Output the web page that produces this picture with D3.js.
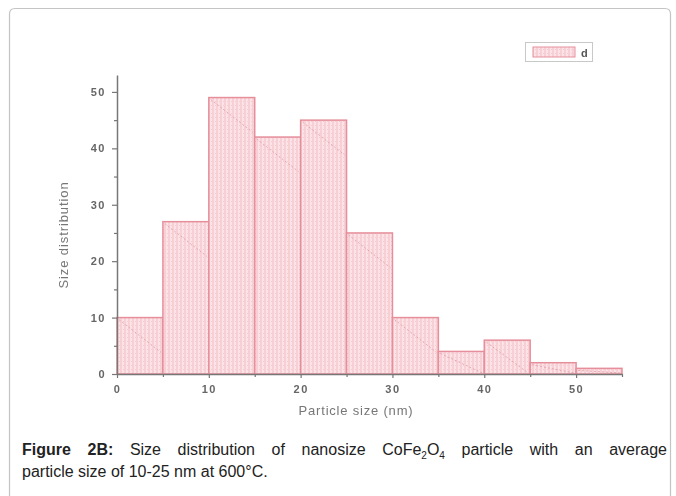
<!DOCTYPE html>
<html>
<head>
<meta charset="utf-8">
<script src="https://cdn.jsdelivr.net/npm/d3@7"></script>
<style>
  html, body { margin: 0; padding: 0; background: #fff; }
  svg { display: block; }
</style>
</head>
<body>
<svg id="fig" width="676" height="496"></svg>
<script>
// Histogram bins (nm) and particle counts
const binStarts = [0, 5, 10, 15, 20, 25, 30, 35, 40, 45, 50];
const binWidth = 5;
const counts = [10, 27, 49, 42, 45, 25, 10, 4, 6, 2, 1];
const xTicks = [0, 10, 20, 30, 40, 50];
const yTicks = [0, 10, 20, 30, 40, 50];
const seriesName = "d";

const svg = d3.select("#fig");

// card frame
svg.append("path")
  .attr("d", "M9.5,520 L9.5,14 Q9.5,8.5 15,8.5 L665,8.5 Q670.5,8.5 670.5,14 L670.5,520")
  .attr("fill", "none").attr("stroke", "#c4c4c4").attr("stroke-width", 1.2);

const defs = svg.append("defs");
const pat = defs.append("pattern").attr("id", "hatch")
  .attr("patternUnits", "userSpaceOnUse").attr("width", 4).attr("height", 4);
pat.append("rect").attr("width", 4).attr("height", 4).attr("fill", "#fce3e7");
pat.append("line").attr("x1", 1).attr("x2", 1).attr("y1", 0).attr("y2", 4)
  .attr("stroke", "#f3bec6").attr("stroke-width", 1);
pat.append("rect").attr("x", 3).attr("y", 1).attr("width", 1).attr("height", 1).attr("fill", "#f5cad0");

defs.append("filter").attr("id", "soft").append("feGaussianBlur").attr("stdDeviation", 0.55);

const x = d3.scaleLinear().domain([0, 55]).range([117, 622]);
const y = d3.scaleLinear().domain([0, 53]).range([374, 75]);

const g = svg.append("g").attr("filter", "url(#soft)");

// bars
const bars = g.append("g").selectAll("g").data(binStarts.map((s, i) => ({ s, c: counts[i] })))
  .join("g");
bars.append("rect")
  .attr("x", d => x(d.s))
  .attr("y", d => y(d.c))
  .attr("width", d => x(d.s + binWidth) - x(d.s))
  .attr("height", d => y(0) - y(d.c))
  .attr("fill", "url(#hatch)")
  .attr("stroke", "#e68f9b").attr("stroke-width", 1.5);
// faint diagonal stroke inside each bar
bars.append("line")
  .attr("x1", d => x(d.s) + 2)
  .attr("y1", d => y(d.c) + 2)
  .attr("x2", d => x(d.s + binWidth) - 2)
  .attr("y2", d => Math.min(y(d.c) + 2 + (x(d.s + binWidth) - x(d.s) - 4) * 0.78, y(0) - 1))
  .attr("stroke", "#df9aa3").attr("stroke-width", 0.8).attr("stroke-dasharray", "2,2");

// axes
const axisColor = "#777";
g.append("g").attr("transform", `translate(0,${y(0)})`)
  .call(d3.axisBottom(x).tickValues(xTicks).tickSize(4).tickPadding(7).tickSizeOuter(0));
g.append("g").attr("transform", `translate(${x(0)},0)`)
  .call(d3.axisLeft(y).tickValues(yTicks).tickSize(5).tickPadding(6).tickSizeOuter(0));
// minor ticks
g.append("g").attr("transform", `translate(0,${y(0)})`)
  .call(d3.axisBottom(x).tickValues([5, 15, 25, 35, 45, 55]).tickSize(3).tickFormat("").tickSizeOuter(0))
  .select(".domain").remove();
g.append("g").attr("transform", `translate(${x(0)},0)`)
  .call(d3.axisLeft(y).tickValues([5, 15, 25, 35, 45]).tickSize(3).tickFormat("").tickSizeOuter(0))
  .select(".domain").remove();

g.selectAll(".domain").attr("stroke", axisColor).attr("stroke-width", 1.5);
g.selectAll(".tick line").attr("stroke", axisColor).attr("stroke-width", 1.2);
g.selectAll(".tick text")
  .attr("fill", "#666").attr("font-family", "Arial, 'Liberation Sans', sans-serif")
  .attr("font-size", 11).attr("font-weight", "bold").attr("letter-spacing", 1.5);

// axis titles
g.append("text").attr("x", 356).attr("y", 415).attr("text-anchor", "middle")
  .attr("font-family", "Arial, 'Liberation Sans', sans-serif").attr("font-size", 13)
  .attr("letter-spacing", 0.8).attr("fill", "#777").text("Particle size (nm)");
g.append("text").attr("transform", "translate(68,235) rotate(-90)").attr("text-anchor", "middle")
  .attr("font-family", "Arial, 'Liberation Sans', sans-serif").attr("font-size", 13)
  .attr("letter-spacing", 0.9).attr("fill", "#777").text("Size distribution");

// legend
const leg = g.append("g");
leg.append("rect").attr("x", 525.5).attr("y", 42.5).attr("width", 67).attr("height", 19)
  .attr("fill", "#fff").attr("stroke", "#c8c8c8").attr("stroke-width", 1);
leg.append("rect").attr("x", 533).attr("y", 47).attr("width", 42).attr("height", 10)
  .attr("fill", "url(#hatch)").attr("stroke", "#e68f9b").attr("stroke-width", 1);
leg.append("text").attr("x", 581).attr("y", 57).attr("font-family", "Arial, 'Liberation Sans', sans-serif")
  .attr("font-size", 11).attr("font-weight", "bold").attr("fill", "#555").text(seriesName);

// caption
const cap = svg.append("text").attr("font-family", "Arial, 'Liberation Sans', sans-serif")
  .attr("font-size", 16).attr("fill", "#222");
const line1 = cap.append("tspan").attr("x", 22).attr("y", 455);
line1.append("tspan").attr("font-weight", "bold").text("Figure 2B:");
line1.append("tspan").text(" Size distribution of nanosize CoFe");
line1.append("tspan").attr("font-size", 10).attr("dy", 4).text("2");
line1.append("tspan").attr("dy", -4).text("O");
line1.append("tspan").attr("font-size", 10).attr("dy", 4).text("4");
line1.append("tspan").attr("dy", -4).text(" particle with an average");
cap.append("tspan").attr("x", 22).attr("y", 477).text("particle size of 10-25 nm at 600°C.");

// stretch the first caption line to the full text width (justified)
const target = 667 - 22;
let textW = 0;
line1.selectAll("tspan").each(function () { textW += this.getComputedTextLength(); });
const spaces = 10;
line1.attr("word-spacing", Math.max(0, (target - textW) / spaces));
</script>
</body>
</html>
